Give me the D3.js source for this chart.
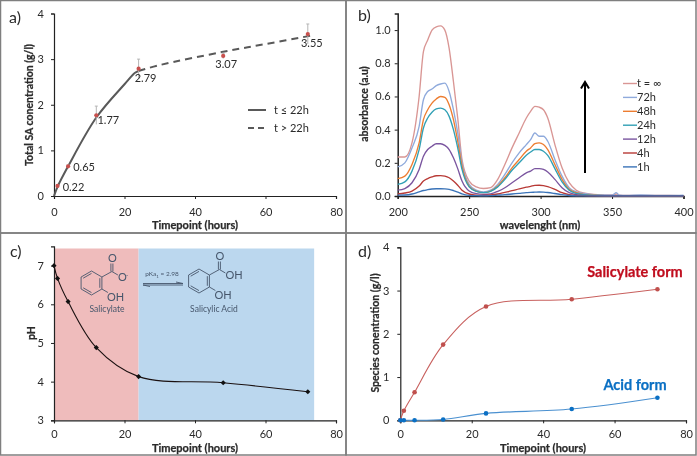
<!DOCTYPE html>
<html><head><meta charset="utf-8">
<script src="https://cdnjs.cloudflare.com/ajax/libs/d3/7.8.5/d3.min.js"></script>
<style>
html,body{margin:0;padding:0;background:#fff}
svg{display:block;font-family:Lato,"Open Sans",sans-serif;filter:blur(.3px)}
text{fill:#2b2b2b}
</style></head><body>
<script>
// ---- data ----
const timeA1 = [0, 1, 4, 12, 20, 23, 24];
const fitA1 = [0, 0.2, 0.65, 1.72, 2.45, 2.7, 2.74];
const timeA2 = [24, 30, 48, 60, 74];
const fitA2 = [2.74, 2.87, 3.16, 3.33, 3.53];
const timeA = [1, 4, 12, 24, 48, 72];
const totalSA = [0.22, 0.65, 1.77, 2.79, 3.07, 3.55];
const errSA = [0.03, 0.03, 0.2, 0.21, 0.06, 0.22];
const labelsSA = ["0.22", "0.65", "1.77", "2.79", "3.07", "3.55"];

const wl = [200,205,210,215,218,221,224,227,230,233,236,239,242,245,250,255,260,265,270,275,280,285,290,293,296,299,302,305,310,315,320,325,330,340,350,353,355,360,370,380,390,400];
const specInf = [.235,.235,.32,.6,.87,.94,1.0,1.02,1.025,1.0,.89,.69,.47,.22,.09,.055,.045,.05,.10,.19,.29,.38,.47,.51,.54,.535,.52,.47,.31,.17,.08,.035,.018,.008,.006,.012,.005,.004,.004,.003,.003,.002];
const spec72 = [.175,.2,.29,.42,.58,.63,.645,.665,.675,.68,.63,.52,.38,.2,.07,.035,.025,.035,.07,.13,.2,.26,.31,.34,.38,.36,.36,.33,.22,.12,.05,.025,.015,.006,.005,.02,.005,.004,.006,.004,.003,.005];
const spec48 = [.105,.12,.19,.32,.46,.52,.56,.585,.6,.595,.55,.46,.33,.18,.06,.03,.02,.03,.06,.11,.17,.22,.27,.29,.315,.32,.31,.28,.19,.1,.04,.02,.01,.004,.002,.002,.002,.001,.001,.001,.001,.001];
const spec24 = [.07,.085,.15,.28,.41,.47,.505,.525,.53,.52,.48,.4,.29,.16,.055,.028,.02,.028,.055,.1,.155,.2,.245,.265,.28,.28,.27,.245,.165,.085,.035,.015,.008,.003,.002,.002,.002,.001,.001,.001,.001,.001];
const spec12 = [.035,.045,.08,.16,.24,.28,.3,.315,.315,.305,.28,.23,.165,.09,.03,.014,.01,.013,.028,.05,.08,.11,.14,.15,.165,.165,.16,.145,.1,.05,.02,.008,.004,.002,.001,.001,.001,.001,.001,.001,.001,.001];
const spec4 = [.012,.018,.03,.06,.09,.105,.115,.122,.123,.12,.11,.09,.065,.035,.012,.005,.004,.006,.012,.022,.032,.043,.053,.058,.064,.065,.063,.057,.04,.02,.008,.003,.002,.001,.001,.001,.001,.001,.001,.001,.001,.001];
const spec1 = [.005,.006,.012,.025,.033,.038,.042,.044,.044,.043,.04,.033,.024,.013,.004,.002,.001,.002,.005,.008,.012,.016,.02,.022,.023,.024,.023,.021,.015,.008,.003,.001,.001,.001,.001,.001,.001,.001,.001,.001,.001,.001];
const specNames = ["t = ∞", "72h", "48h", "24h", "12h", "4h", "1h"];
const specColors = ["#d99694", "#8faadc", "#ed7d31", "#31a0b5", "#7a559f", "#b83a36", "#3a73b8"];
const specSeries = [specInf, spec72, spec48, spec24, spec12, spec4, spec1];

const timeC = [0, 1, 4, 12, 24, 48, 72];
const pH = [7, 6.67, 6.07, 4.88, 4.13, 3.97, 3.74];
const salicylate = [0, 0.22, 0.65, 1.75, 2.63, 2.8, 3.03];
const acid = [0, 0, 0, 0.02, 0.16, 0.26, 0.52];

// ---- page ----
const svg = d3.select("body").append("svg").attr("width", 697).attr("height", 456);
svg.append("rect").attr("width", 697).attr("height", 456).attr("fill", "#fff");

function frame(x, y, w, h) {
  svg.append("rect").attr("x", x).attr("y", y).attr("width", w).attr("height", h)
    .attr("fill", "none").attr("stroke", "#7f7f7f").attr("stroke-width", 1.5);
}
frame(0.5, 0.5, 345.5, 232.5);
frame(346, 0.5, 350, 232.5);
frame(0.5, 233, 345.5, 222);
frame(346, 233, 350, 222);

function txt(x, y, s, o = {}) {
  const t = svg.append("text").attr("x", x).attr("y", y).attr("dy", ".35em")
    .attr("text-anchor", o.anchor || "middle").attr("font-size", o.size || 11)
    .attr("font-weight", o.bold ? 700 : 400).style("fill", o.color || null)
    .attr("transform", o.rot ? `rotate(${o.rot} ${x} ${y})` : null).text(s);
  if (o.bold) t.style("stroke", o.color || "#2b2b2b").style("stroke-width", 0.25);
  return t;
}

function axes(p) {
  const x = d3.scaleLinear().domain(p.xd).range(p.xr);
  const y = d3.scaleLinear().domain(p.yd).range(p.yr);
  const gx = svg.append("g").attr("transform", `translate(0,${p.yr[0]})`)
    .call(d3.axisBottom(x).tickValues(p.xt).tickSize(3).tickPadding(p.px).tickFormat(d3.format("d")));
  const gy = svg.append("g").attr("transform", `translate(${p.xr[0]},0)`)
    .call(d3.axisLeft(y).tickValues(p.yt).tickSize(3).tickPadding(p.py).tickFormat(p.yf || d3.format("d")));
  [gx, gy].forEach(g => {
    g.selectAll("path").attr("stroke", "#222").attr("stroke-width", p.sw || 1.2);
    g.selectAll("line").attr("stroke", "#222");
    g.selectAll("text").attr("font-size", 11).style("fill", "#2b2b2b");
    g.attr("font-family", null);
  });
  return { x, y };
}

function pts(xs, ys) { return xs.map((d, i) => [d, ys[i]]); }
function path(a, s, curve, stroke, w, dash) {
  return svg.append("path")
    .attr("d", d3.line().x(d => a.x(d[0])).y(d => a.y(d[1])).curve(curve)(s))
    .attr("fill", "none").attr("stroke", stroke).attr("stroke-width", w)
    .attr("stroke-dasharray", dash || null);
}

const smooth = d3.curveCatmullRom.alpha(0.5);

// ---- a) ----
const A = axes({ xd: [0, 80], xr: [54, 336], yd: [0, 4], yr: [196, 13.5], xt: [0, 20, 40, 60, 80], yt: [0, 1, 2, 3, 4], px: 9, py: 7 });
path(A, pts(timeA1, fitA1), smooth, "#595959", 2);
path(A, pts(timeA2, fitA2), smooth, "#595959", 2, "7 5");
timeA.forEach((t, i) => {
  svg.append("line").attr("x1", A.x(t)).attr("x2", A.x(t))
    .attr("y1", A.y(totalSA[i] - errSA[i])).attr("y2", A.y(totalSA[i] + errSA[i]))
    .attr("stroke", "#b5b5b5").attr("stroke-width", 1);
  svg.append("line").attr("x1", A.x(t) - 1.5).attr("x2", A.x(t) + 1.5)
    .attr("y1", A.y(totalSA[i] + errSA[i])).attr("y2", A.y(totalSA[i] + errSA[i]))
    .attr("stroke", "#b5b5b5").attr("stroke-width", 1);
});
svg.append("g").selectAll("circle").data(pts(timeA, totalSA)).join("circle")
  .attr("cx", d => A.x(d[0])).attr("cy", d => A.y(d[1])).attr("r", 2.1).attr("fill", "#c8504d");
const labelOffA = [[16, 1], [16, 1], [12, 5], [7, 9], [3, 8], [4, 9]];
labelsSA.forEach((s, i) => {
  txt(A.x(timeA[i]) + labelOffA[i][0], A.y(totalSA[i]) + labelOffA[i][1], s);
});
[[110, "t ≤ 22h", null], [128, "t > 22h", "6 4"]].forEach(([ly, s, dash]) => {
  svg.append("line").attr("x1", 248).attr("x2", 266).attr("y1", ly).attr("y2", ly)
    .attr("stroke", "#595959").attr("stroke-width", 2).attr("stroke-dasharray", dash);
  txt(274, ly, s, { anchor: "start" });
});
txt(9, 17, "a)", { anchor: "start", size: 16 });
txt(195, 225, "Timepoint (hours)", { bold: true, size: 11 });
txt(29, 105, "Total SA conentration (g/l)", { bold: true, size: 10.5, rot: -90 });

// ---- b) ----
const B = axes({ xd: [200, 400], xr: [397.7, 683.5], yd: [0, 1.1], yr: [196, 13.5], xt: [200, 250, 300, 350, 400], yt: [0, .2, .4, .6, .8, 1], yf: d3.format(".1f"), sw: 1.5, px: 9, py: 4 });
specSeries.forEach((s, i) => path(B, pts(wl, s), d3.curveMonotoneX, specColors[i], 1.35));
specNames.forEach((n, i) => {
  const ly = 83.5 + i * 13.9;
  svg.append("line").attr("x1", 623).attr("x2", 637).attr("y1", ly).attr("y2", ly)
    .attr("stroke", specColors[i]).attr("stroke-width", 1.4);
  txt(637, ly, n, { anchor: "start" });
});
svg.append("line").attr("x1", 585).attr("x2", 585).attr("y1", 173).attr("y2", 84)
  .attr("stroke", "#000").attr("stroke-width", 2);
svg.append("path").attr("d", "M581 88.5L585 82L589 88.5").attr("fill", "none").attr("stroke", "#000").attr("stroke-width", 2);
txt(358, 15, "b)", { anchor: "start", size: 16 });
txt(540, 225, "wavelenght (nm)", { bold: true, size: 11 });
txt(364, 104, "absorbance (a.u)", { bold: true, size: 10.5, rot: -90 });

// ---- c) ----
const cXd = [0, 80], cYd = [3, 7.5];
const cx = d3.scaleLinear().domain(cXd).range([54, 336]);
const cy = d3.scaleLinear().domain([3, 7]).range([420.3, 265.7]);
svg.append("rect").attr("x", cx(0)).attr("y", 248.5).attr("width", cx(24) - cx(0)).attr("height", cy(3) - 248.5).attr("fill", "#efbcbc");
svg.append("rect").attr("x", cx(24)).attr("y", 248.5).attr("width", cx(73.8) - cx(24)).attr("height", cy(3) - 248.5).attr("fill", "#bbd7ee");

function molecule(ox, oy, acidForm) {
  const r = 12, col = "#46566b";
  const g = svg.append("g").attr("fill", "none").attr("stroke", col).attr("stroke-width", 0.9);
  const v = d3.range(6).map(i => {
    const a = (i * 60 - 90) * Math.PI / 180;
    return [ox + r * Math.cos(a), oy + r * Math.sin(a)];
  });
  g.append("path").attr("d", d3.line().curve(d3.curveLinearClosed)(v));
  [[1, 2], [3, 4], [5, 0]].forEach(([a, b]) => {
    const sh = p => [ox + (p[0] - ox) * .8, oy + (p[1] - oy) * .8];
    g.append("path").attr("d", d3.line()([sh(v[a]), sh(v[b])]));
  });
  const c = [v[1][0] + 10, v[1][1] - 5.5];
  g.append("path").attr("d", d3.line()([v[1], c]));
  g.append("path").attr("d", d3.line()([[c[0] - 1, c[1]], [c[0] - 1, c[1] - 8]]));
  g.append("path").attr("d", d3.line()([[c[0] + 1, c[1]], [c[0] + 1, c[1] - 8]]));
  g.append("path").attr("d", d3.line()([c, [c[0] + 6, c[1] + 3.5]]));
  g.append("path").attr("d", d3.line()([v[2], [v[2][0] + 6, v[2][1] + 3.5]]));
  const t = { anchor: "start", size: 11, color: col };
  txt(c[0] - 4, c[1] - 13, "O", t);
  if (acidForm) txt(c[0] + 6, c[1] + 6, "OH", t);
  else { txt(c[0] + 6, c[1] + 6, "O", t); txt(c[0] + 14, c[1] + 3, "-", { anchor: "start", size: 6, color: col }); }
  txt(v[2][0] + 5, v[2][1] + 8, "OH", t);
}
molecule(91.5, 283, false);
molecule(199, 281, true);
txt(107, 309, "Salicylate", { size: 8.5, color: "#46566b" });
txt(214, 309, "Salicylic Acid", { size: 8.5, color: "#46566b" });
const pka = txt(162, 274, "pKa", { size: 6.5, color: "#46566b" });
pka.append("tspan").attr("font-size", 4.5).attr("dy", "1.5").text("1");
pka.append("tspan").attr("dy", "-1.5").text(" = 2.98");
svg.append("path").attr("d", "M143 283.5H183L176 282M143 285H183M143 285L150 286.5")
  .attr("fill", "none").attr("stroke", "#46566b").attr("stroke-width", 0.9);

const C = axes({ xd: cXd, xr: [54, 336], yd: cYd, yr: [420.3, 246.3], xt: [0, 20, 40, 60, 80], yt: [3, 4, 5, 6, 7], px: 7, py: 7 });
path(C, pts(timeC, pH), smooth, "#1a1010", 1.1);
const diamond = d3.symbol().type(d3.symbolSquare).size(13);
svg.append("g").selectAll("path").data(pts(timeC, pH)).join("path")
  .attr("d", diamond).attr("fill", "#111")
  .attr("transform", d => `translate(${C.x(d[0])},${C.y(d[1])}) rotate(45)`);
txt(10, 251, "c)", { anchor: "start", size: 16 });
txt(195, 448, "Timepoint (hours)", { bold: true, size: 11 });
txt(31, 333, "pH", { bold: true, size: 10.5, rot: -90 });

// ---- d) ----
const D = axes({ xd: [0, 80], xr: [400.3, 686], yd: [0, 4], yr: [420.3, 247.3], xt: [0, 20, 40, 60, 80], yt: [0, 1, 2, 3, 4], px: 7, py: 8 });
[[salicylate, "#c8605e", "#c0504d"], [acid, "#4a90d0", "#0b70c4"]].forEach(([s, lc, pc]) => {
  path(D, pts(timeC, s), smooth, lc, 1.1);
  svg.append("g").selectAll("circle").data(pts(timeC, s)).join("circle")
    .attr("cx", d => D.x(d[0])).attr("cy", d => D.y(d[1])).attr("r", 2.3).attr("fill", pc);
});
txt(635, 272, "Salicylate form", { bold: true, size: 14.5, color: "#c00d1e" });
txt(635, 385, "Acid form", { bold: true, size: 14.5, color: "#0b70c4" });
txt(358, 251, "d)", { anchor: "start", size: 16 });
txt(543, 448, "Timepoint (hours)", { bold: true, size: 11 });
txt(375, 333, "Species conentration (g/l)", { bold: true, size: 10.5, rot: -90 });
</script>
</body></html>
